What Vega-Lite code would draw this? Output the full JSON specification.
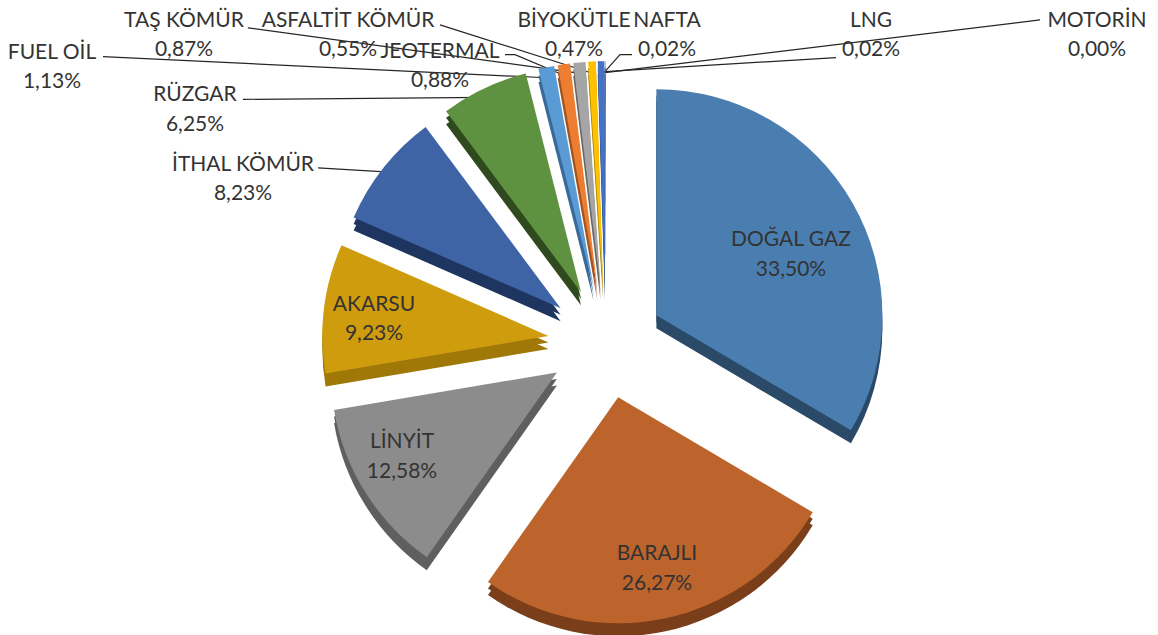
{
"$schema":"https://vega.github.io/schema/vega-lite/v6.json",
"width":1158,"height":635,"autosize":{"type":"fit","contains":"padding"},"padding":0,
"background":"white","view":{"stroke":null},
"datasets":{
"slices":[
{"name":"DOĞAL GAZ","share":33.50,"labelX":185,"labelY":89},
{"name":"BARAJLI","share":26.27,"labelX":51,"labelY":-227},
{"name":"LİNYİT","share":12.58,"labelX":-204,"labelY":-114},
{"name":"AKARSU","share":9.23,"labelX":-232,"labelY":24},
{"name":"İTHAL KÖMÜR","share":8.23,"labelX":-363,"labelY":165},
{"name":"RÜZGAR","share":6.25,"labelX":-411,"labelY":235},
{"name":"FUEL OİL","share":1.13,"labelX":-554,"labelY":278},
{"name":"JEOTERMAL","share":0.88,"labelX":-166,"labelY":279},
{"name":"TAŞ KÖMÜR","share":0.87,"labelX":-422,"labelY":310},
{"name":"ASFALTİT KÖMÜR","share":0.55,"labelX":-258,"labelY":310},
{"name":"BİYOKÜTLE","share":0.47,"labelX":-32,"labelY":310},
{"name":"NAFTA","share":0.02,"labelX":61,"labelY":310},
{"name":"LNG","share":0.02,"labelX":265,"labelY":310},
{"name":"MOTORİN","share":0.00,"labelX":491,"labelY":310}
],
"leaders":[
{"name":"FUEL OİL","step":1,"px":-503,"py":287},{"name":"FUEL OİL","step":2,"px":-65,"py":266},
{"name":"JEOTERMAL","step":1,"px":-101,"py":289},{"name":"JEOTERMAL","step":2,"px":-91,"py":289},{"name":"JEOTERMAL","step":3,"px":-44,"py":269},
{"name":"TAŞ KÖMÜR","step":1,"px":-358,"py":316},{"name":"TAŞ KÖMÜR","step":2,"px":-31,"py":271},
{"name":"ASFALTİT KÖMÜR","step":1,"px":-166,"py":319},{"name":"ASFALTİT KÖMÜR","step":2,"px":-16,"py":271},
{"name":"BİYOKÜTLE","step":1,"px":-7,"py":282},{"name":"BİYOKÜTLE","step":2,"px":-7,"py":272},
{"name":"NAFTA","step":1,"px":26,"py":289},{"name":"NAFTA","step":2,"px":14,"py":289},{"name":"NAFTA","step":3,"px":-2,"py":271},
{"name":"LNG","step":1,"px":230,"py":286},{"name":"LNG","step":2,"px":-1,"py":272},
{"name":"MOTORİN","step":1,"px":434,"py":324},{"name":"MOTORİN","step":2,"px":-1,"py":271},
{"name":"RÜZGAR","step":1,"px":-363,"py":244},{"name":"RÜZGAR","step":2,"px":-121,"py":246},
{"name":"İTHAL KÖMÜR","step":1,"px":-288,"py":175},{"name":"İTHAL KÖMÜR","step":2,"px":-221,"py":171}
]},
"data":{"name":"slices"},
"transform":[
{"window":[{"op":"sum","field":"share","as":"end"}],"sort":[{"field":"share","order":"descending"}]},
{"calculate":"datum.end-datum.share","as":"start"},
{"calculate":"sin(PI*(datum.start+datum.end)/100)*58","as":"ox"},
{"calculate":"cos(PI*(datum.start+datum.end)/100)*56-1","as":"oy"},
{"calculate":"[datum.name, replace(format(datum.share,'.2f'),'.',',')+'%']","as":"label"}
],
"layer":[
{"data":{"name":"leaders"},"transform":[],
"mark":{"type":"line","color":"#262626","strokeWidth":1.2,"interpolate":"linear"},
"encoding":{
"x":{"field":"px","type":"quantitative","scale":{"domain":[-606,552],"nice":false,"zero":false},"axis":null},
"y":{"field":"py","type":"quantitative","scale":{"domain":[-291,344],"nice":false,"zero":false},"axis":null},
"detail":{"field":"name"},"order":{"field":"step"}
}},
{"layer":[
{"mark":{"type":"arc","outerRadius":226,"yOffset":13}},
{"mark":{"type":"arc","outerRadius":226,"yOffset":6.5}}
],
"encoding":{
"x":{"field":"ox","type":"quantitative","scale":{"domain":[-606,552],"nice":false,"zero":false},"axis":null},
"y":{"field":"oy","type":"quantitative","scale":{"domain":[-291,344],"nice":false,"zero":false},"axis":null},
"theta":{"field":"start","type":"quantitative","scale":{"domain":[0,100]}},
"theta2":{"field":"end"},
"color":{"field":"name","type":"nominal","legend":null,"scale":{"domain":["DOĞAL GAZ","BARAJLI","LİNYİT","AKARSU","İTHAL KÖMÜR","RÜZGAR","FUEL OİL","JEOTERMAL","TAŞ KÖMÜR","ASFALTİT KÖMÜR","BİYOKÜTLE","NAFTA","LNG","MOTORİN"],"range":["#2a4a68","#7a3f1a","#5f5f5f","#a07808","#1e3560","#2f4a1e","#3a6a9a","#a05520","#666666","#b08800","#2a4a88","#4a7a30","#1a3058","#703008"]}}
}},
{"mark":{"type":"arc","outerRadius":226},
"encoding":{
"x":{"field":"ox","type":"quantitative","scale":{"domain":[-606,552],"nice":false,"zero":false},"axis":null},
"y":{"field":"oy","type":"quantitative","scale":{"domain":[-291,344],"nice":false,"zero":false},"axis":null},
"theta":{"field":"start","type":"quantitative","scale":{"domain":[0,100]}},
"theta2":{"field":"end"},
"color":{"field":"name","type":"nominal","legend":null,"scale":{"domain":["DOĞAL GAZ","BARAJLI","LİNYİT","AKARSU","İTHAL KÖMÜR","RÜZGAR","FUEL OİL","JEOTERMAL","TAŞ KÖMÜR","ASFALTİT KÖMÜR","BİYOKÜTLE","NAFTA","LNG","MOTORİN"],"range":["#4a7eb0","#bc642b","#8c8c8c","#cf9c0e","#3f64a6","#5e9140","#5b9bd5","#ed7d31","#a5a5a5","#ffc000","#4472c4","#70ad47","#264478","#9e480e"]}}
}},
{"mark":{"type":"text","font":"Lato","fontSize":21,"lineHeight":29.5,"dy":-13,"color":"#333333","align":"center","baseline":"middle"},
"encoding":{
"x":{"field":"labelX","type":"quantitative","scale":{"domain":[-606,552],"nice":false,"zero":false},"axis":null},
"y":{"field":"labelY","type":"quantitative","scale":{"domain":[-291,344],"nice":false,"zero":false},"axis":null},
"text":{"field":"label"}
}}
],
"resolve":{"scale":{"color":"independent"}},
"config":{"style":{"cell":{"stroke":null}}}
}
